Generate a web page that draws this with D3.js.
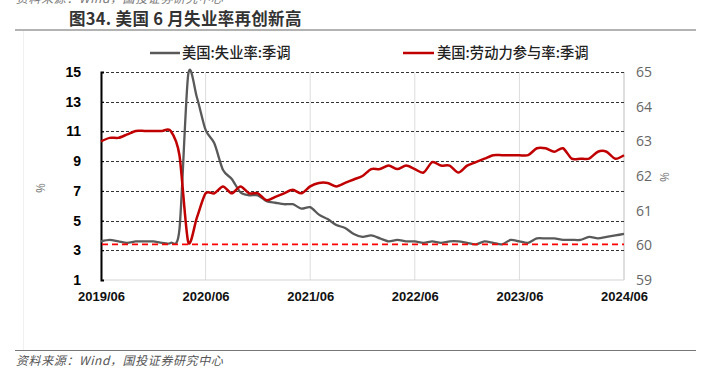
<!DOCTYPE html>
<html><head><meta charset="utf-8">
<script src="https://cdn.jsdelivr.net/npm/d3@7"></script>
<style>
html,body{margin:0;padding:0;background:#fff;}
svg{display:block;}
</style></head>
<body><svg id="c" width="706" height="374"></svg>
<script>
// ---- data ----
const months = d3.range(0, 61); // 2019/06 .. 2024/06 month index
const unemployment = [
 3.6,3.7,3.6,3.5,3.6,3.6,3.6,
 3.5,3.5,4.4,14.8,13.3,11.1,10.2,8.4,7.8,6.9,6.7,6.7,
 6.3,6.2,6.1,6.1,5.8,5.9,5.4,5.1,4.7,4.5,4.1,3.9,
 4.0,3.8,3.6,3.7,3.6,3.6,3.5,3.6,3.5,3.6,3.6,3.5,
 3.4,3.6,3.5,3.4,3.7,3.6,3.5,3.8,3.8,3.8,3.7,3.7,
 3.7,3.9,3.8,3.9,4.0,4.1
];
const participation = [
 63.0,63.1,63.1,63.2,63.3,63.3,63.3,
 63.3,63.3,62.6,60.1,60.8,61.5,61.5,61.7,61.5,61.7,61.5,61.5,
 61.3,61.4,61.5,61.6,61.5,61.7,61.8,61.8,61.7,61.8,61.9,62.0,
 62.2,62.2,62.3,62.2,62.3,62.2,62.1,62.4,62.3,62.3,62.1,62.3,
 62.4,62.5,62.6,62.6,62.6,62.6,62.6,62.8,62.8,62.7,62.8,62.5,
 62.5,62.5,62.7,62.7,62.5,62.6
];
const refLevel = 3.4;
const xTickIdx = [0,12,24,36,48,60];
const xTickLabels = ["2019/06","2020/06","2021/06","2022/06","2023/06","2024/06"];
const leftTicks = [1,3,5,7,9,11,13,15];
const rightTicks = [59,60,61,62,63,64,65];
const seriesNames = ["美国:失业率:季调","美国:劳动力参与率:季调"];
const titleText = "图34. 美国 6 月失业率再创新高";
const sourceText = "资料来源：Wind，国投证券研究中心";

// ---- layout ----
const svg = d3.select("#c");
const L = 101, R = 624, T = 72, B = 280;
const x = d3.scaleLinear().domain([0,60]).range([L,R]);
const yL = d3.scaleLinear().domain([1,15]).range([B,T]);
const yR = d3.scaleLinear().domain([59,65]).range([B,T]);
const cjk = "'Noto Sans CJK SC','Noto Sans',sans-serif";

// top cut-off source text
svg.append("text").attr("x",16).attr("y",3).attr("font-family",cjk)
  .attr("font-size",12).attr("font-style","italic").attr("letter-spacing",0.6)
  .attr("fill","#777").text(sourceText);
// title
svg.append("text").attr("x",69).attr("y",25).attr("font-family",cjk)
  .attr("font-size",16.5).attr("font-weight",700).attr("letter-spacing",0.3)
  .attr("fill","#333").text(titleText);
// separators
svg.append("line").attr("x1",15).attr("x2",696).attr("y1",30).attr("y2",30)
  .attr("stroke","#9a9a9a").attr("stroke-width",1.5);
svg.append("line").attr("x1",15).attr("x2",696).attr("y1",350.5).attr("y2",350.5)
  .attr("stroke","#777").attr("stroke-width",1.2);
svg.append("line").attr("x1",23.5).attr("x2",23.5).attr("y1",31).attr("y2",350)
  .attr("stroke","#f0f0f0").attr("stroke-width",1);
// footer
svg.append("text").attr("x",16).attr("y",365).attr("font-family",cjk)
  .attr("font-size",12).attr("font-style","italic").attr("letter-spacing",0.6)
  .attr("fill","#555").text(sourceText);

// vertical grid
svg.append("g").selectAll("line").data(xTickIdx).join("line")
  .attr("x1",d=>x(d)).attr("x2",d=>x(d)).attr("y1",T).attr("y2",B)
  .attr("stroke","#dcdcdc").attr("stroke-width",1);
// bottom axis line
svg.append("line").attr("x1",L).attr("x2",R).attr("y1",B).attr("y2",B)
  .attr("stroke","#d4d4d4").attr("stroke-width",1.2);
// right axis line
svg.append("line").attr("x1",R).attr("x2",R).attr("y1",T).attr("y2",B)
  .attr("stroke","#d4d4d4").attr("stroke-width",1.2);

// horizontal dashed grid
svg.append("g").selectAll("line").data(leftTicks.filter(d=>d>1)).join("line")
  .attr("x1",L).attr("x2",R).attr("y1",d=>Math.round(yL(d))+0.5).attr("y2",d=>Math.round(yL(d))+0.5)
  .attr("stroke","#333").attr("stroke-width",1).attr("stroke-dasharray","3,2");

// left axis
const gL = svg.append("g").attr("transform",`translate(${L},0)`)
  .call(d3.axisLeft(yL).tickValues(leftTicks).tickSize(-3).tickPadding(20).tickFormat(d3.format("d")));
gL.select(".domain").attr("stroke","#000").attr("stroke-width",2);
gL.selectAll(".tick line").attr("stroke","#000");
gL.selectAll("text").attr("font-family","'Liberation Sans',Arial,sans-serif")
  .attr("font-size",14).attr("font-weight",700).attr("fill","#000");

// right axis labels
const gR = svg.append("g").attr("transform",`translate(${R},0)`)
  .call(d3.axisRight(yR).tickValues(rightTicks).tickSize(0).tickPadding(12).tickFormat(d3.format("d")));
gR.select(".domain").remove();
gR.selectAll("text").attr("font-family","'Open Sans',sans-serif")
  .attr("font-size",14).attr("fill","#666");

// x axis labels
const gX = svg.append("g").attr("transform",`translate(0,${B})`)
  .call(d3.axisBottom(x).tickValues(xTickIdx).tickSize(0).tickPadding(12).tickFormat((d,i)=>xTickLabels[i]));
gX.select(".domain").remove();
gX.selectAll("text").attr("font-family","'Liberation Sans',Arial,sans-serif")
  .attr("font-size",13).attr("font-weight",700).attr("fill","#111");

// axis unit labels
svg.append("text").attr("transform","translate(45,188) rotate(-90)").attr("text-anchor","middle")
  .attr("font-family","'Open Sans',sans-serif").attr("font-size",12).attr("fill","#777").text("%");
svg.append("text").attr("transform","translate(669,177) rotate(-90)").attr("text-anchor","middle")
  .attr("font-family","'Open Sans',sans-serif").attr("font-size",12).attr("fill","#777").text("%");

// series
const curve = d3.curveCardinal.tension(0.2);
const lineL = d3.line().x(d=>x(d[0])).y(d=>yL(d[1])).curve(curve);
const lineR = d3.line().x(d=>x(d[0])).y(d=>yR(d[1])).curve(curve);
svg.append("path").datum(months.map(i=>[i,unemployment[i]])).attr("d",lineL)
  .attr("fill","none").attr("stroke","#595959").attr("stroke-width",2.3).attr("stroke-linejoin","round");
svg.append("path").datum(months.map(i=>[i,participation[i]])).attr("d",lineR)
  .attr("fill","none").attr("stroke","#C00000").attr("stroke-width",2.5).attr("stroke-linejoin","round");
// reference dashed
svg.append("line").attr("x1",L+1).attr("x2",R).attr("y1",yL(refLevel)).attr("y2",yL(refLevel))
  .attr("stroke","#FF0000").attr("stroke-width",1.6).attr("stroke-dasharray","6,4");

// legend
const leg = [{x1:150,x2:180,tx:182,c:"#595959",t:seriesNames[0]},{x1:403,x2:434,tx:437,c:"#C00000",t:seriesNames[1]}];
leg.forEach(l=>{
  svg.append("line").attr("x1",l.x1).attr("x2",l.x2).attr("y1",53).attr("y2",53)
    .attr("stroke",l.c).attr("stroke-width",2.5);
  svg.append("text").attr("x",l.tx).attr("y",58).attr("font-family",cjk)
    .attr("font-size",14.3).attr("font-weight",500).attr("fill","#222").text(l.t);
});
</script></body></html>
